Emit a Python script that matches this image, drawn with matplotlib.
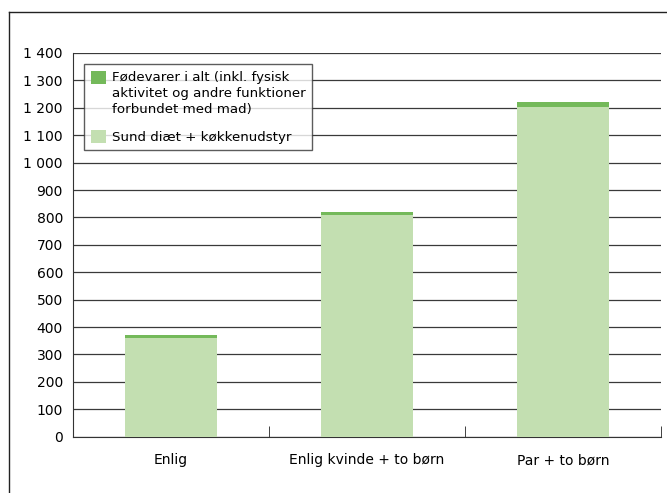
import numpy as np
import matplotlib.pyplot as plt
from matplotlib.lines import Line2D
from matplotlib.patches import Rectangle
from matplotlib.legend_handler import HandlerPatch
from matplotlib.ticker import FuncFormatter

plt.rcParams['font.family'] = ['DejaVu Sans']

categories = ['Enlig', 'Enlig kvinde + to børn', 'Par + to børn']
sund_diaet = [360, 810, 1202]      # Sund diæt + køkkenudstyr
foedevarer = [10, 10, 19]          # Fødevarer i alt (ekstra oven på)
yticks = list(range(0, 1500, 100))

light = '#C3DFB1'
dark = '#74B95A'


class TopPatch(HandlerPatch):
    # lægger firkanten ud for første tekstlinje
    def __init__(self, shift=0, **kw):
        self.shift = shift
        super().__init__(**kw)

    def create_artists(self, legend, orig_handle, xdescent, ydescent,
                       width, height, fontsize, trans):
        p = Rectangle((-xdescent, -ydescent + self.shift), width, height,
                      facecolor=orig_handle.get_facecolor(), edgecolor='none',
                      transform=trans)
        return [p]


fig = plt.figure(figsize=(6.67, 4.93), dpi=100)
ax = fig.add_axes([0.109, 0.1142, 0.8826, 0.7783])

x = np.arange(len(categories))
b1 = ax.bar(x, sund_diaet, width=0.47, color=light, zorder=3)
b2 = ax.bar(x, foedevarer, width=0.47, bottom=sund_diaet, color=dark, zorder=3)

ax.set_xlim(-0.5, 2.5)
ax.set_ylim(0, 1400)
ax.set_yticks(yticks)
ax.yaxis.set_major_formatter(FuncFormatter(lambda v, p: f'{int(v):,}'.replace(',', ' ')))
ax.tick_params(axis='y', length=0, pad=7, labelsize=10)
ax.grid(axis='y', color='#3a3a3a', linewidth=0.9, zorder=0)

# kategorier i midten, streger ved grænserne
ax.set_xticks(x)
ax.set_xticklabels(categories, fontsize=10)
ax.set_xticks(np.arange(-0.5, 3, 1), minor=True)
ax.tick_params(axis='x', which='major', length=0, pad=12)
ax.tick_params(axis='x', which='minor', direction='in', length=8, color='#222222')

for s in ['top', 'right']:
    ax.spines[s].set_visible(False)
ax.spines['left'].set_color('#333333')
ax.spines['bottom'].set_color('#333333')

h_dark, h_light = b2[0], b1[0]
leg = ax.legend([h_dark, h_light],
                ['Fødevarer i alt (inkl. fysisk\naktivitet og andre funktioner\nforbundet med mad)',
                 'Sund diæt + køkkenudstyr'],
                handler_map={h_dark: TopPatch(shift=12), h_light: TopPatch(shift=0)},
                loc='upper left', bbox_to_anchor=(0.02, 0.971),
                fontsize=9.6, frameon=True, fancybox=False, edgecolor='#333333',
                handlelength=1.15, handleheight=1.15, handletextpad=0.4,
                labelspacing=1.0, borderpad=0.5, borderaxespad=0)
for t in leg.get_texts():
    t.set_linespacing(1.32)
leg.get_frame().set_linewidth(1.0)
leg.set_zorder(5)

# ramme oppe og til venstre
fig.add_artist(Line2D([0.0135, 1.0], [0.9757, 0.9757], color='#222222', lw=1.0))
fig.add_artist(Line2D([0.0135, 0.0135], [0.0, 0.9757], color='#222222', lw=1.0))

fig.savefig('out.png', dpi=100)
